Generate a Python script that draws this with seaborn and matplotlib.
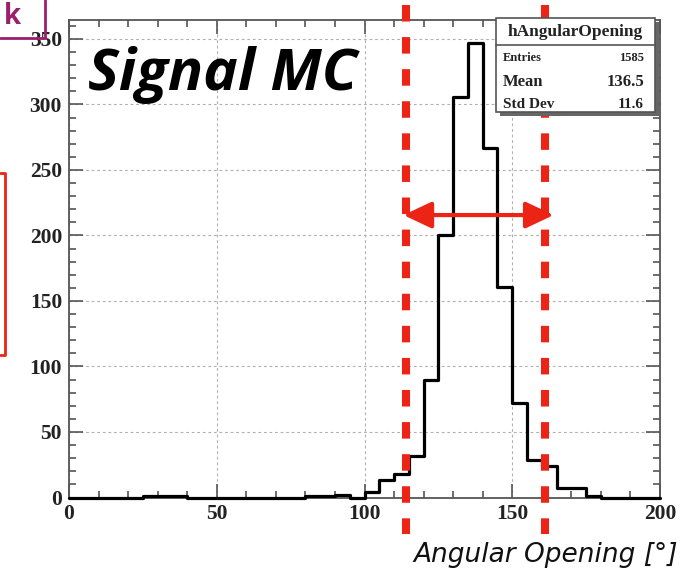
import numpy as np
import pandas as pd
import matplotlib
matplotlib.use("Agg")
import matplotlib.pyplot as plt
from matplotlib.patches import Rectangle
from matplotlib.lines import Line2D
from matplotlib.transforms import blended_transform_factory
from matplotlib.ticker import MultipleLocator
import seaborn as sns

# ---- data ----
bin_edges = list(range(0, 205, 5))
counts = [0, 0, 0, 0, 0, 1, 1, 1, 0, 0,
          0, 0, 0, 0, 0, 0, 1, 1, 2, 0,
          4, 13, 18, 32, 90, 200, 306, 347, 267, 161,
          72, 29, 24, 7, 7, 1, 0, 0, 0, 0]
x_ticks = [0, 50, 100, 150, 200]
y_ticks = [0, 50, 100, 150, 200, 250, 300, 350]
cut_low, cut_high = 114.1, 161.2
arrow_y, arrow_x0, arrow_x1 = 215.6, 113.2, 164.0
stats_title = "hAngularOpening"
stats_labels = ["Entries", "Mean", "Std Dev"]
stats_values = ["1585", "136.5", "11.6"]

centers = [(a + b) / 2 for a, b in zip(bin_edges[:-1], bin_edges[1:])]
df = pd.DataFrame({"angle": centers, "n": counts})

sns.set_theme(style="white")
plt.rcParams["lines.scale_dashes"] = False

W, H = 686, 574
fig = plt.figure(figsize=(W / 100, H / 100), dpi=100)

def fx(px):
    return px / W

def fy(py):
    return 1 - py / H

ax_l, ax_r, ax_t, ax_b = 69, 660, 20, 497.5
ax = fig.add_axes([fx(ax_l), fy(ax_b), fx(ax_r - ax_l), (ax_b - ax_t) / H])

sns.histplot(data=df, x="angle", weights="n", bins=bin_edges, element="step",
             fill=False, color="black", linewidth=2.3, ax=ax)
for art in list(ax.lines) + list(ax.patches) + list(ax.collections):
    art.set_clip_on(False)
    art.set_zorder(4)
ax.set_xlim(0, 200)
ax.set_ylim(0, 364.5)
ax.set_xlabel("")
ax.set_ylabel("")

# ROOT-like axes
ax.xaxis.set_major_locator(MultipleLocator(50))
ax.xaxis.set_minor_locator(MultipleLocator(10))
ax.yaxis.set_major_locator(MultipleLocator(50))
ax.yaxis.set_minor_locator(MultipleLocator(10))
ax.set_xticks(x_ticks)
ax.set_yticks(y_ticks)
ax.set_xticklabels([str(v) for v in x_ticks])
ax.set_yticklabels([str(v) for v in y_ticks])
tick_col = "#555555"
ax.tick_params(which="both", direction="in", top=True, right=True,
               bottom=True, left=True, color=tick_col, width=1.2)
ax.tick_params(which="major", length=10, pad=5)
ax.tick_params(which="minor", length=5)
for lab in ax.get_xticklabels() + ax.get_yticklabels():
    lab.set_fontfamily("Liberation Serif")
    lab.set_fontweight("bold")
    lab.set_fontsize(15.5)
    lab.set_color("#222222")
for sp in ax.spines.values():
    sp.set_color(tick_col)
    sp.set_linewidth(1.3)
ax.grid(True, which="major", color="#b0b0b0", linestyle=(0, (2, 2)), linewidth=0.8)
ax.set_axisbelow(True)

# Stats box
box_col = "#555555"
bx0, bx1, by0, by1 = 496, 655, 18, 112
fig.add_artist(Rectangle((fx(bx0 + 4), fy(by1 + 4)), fx(bx1 - bx0), (by1 - by0) / H,
                         transform=fig.transFigure, facecolor="#666666", edgecolor="none", zorder=5))
fig.add_artist(Rectangle((fx(bx0), fy(by1)), fx(bx1 - bx0), (by1 - by0) / H,
                         transform=fig.transFigure, facecolor="white", edgecolor=box_col,
                         linewidth=1.2, zorder=6))
fig.add_artist(Line2D([fx(bx0), fx(bx1)], [fy(45), fy(45)], transform=fig.transFigure,
                      color=box_col, linewidth=1.2, zorder=7))
fig.text(fx((bx0 + bx1) / 2), fy(32), stats_title, ha="center", va="center",
         family="Liberation Serif", fontweight="bold", fontsize=12.5, color="#222222", zorder=8)
row_y = [58, 82, 104]
row_fs = [9, 12, 11]
for lab, val, yy, fs in zip(stats_labels, stats_values, row_y, row_fs):
    fig.text(fx(503), fy(yy), lab, ha="left", va="center", family="Liberation Serif",
             fontweight="bold", fontsize=fs, color="#222222", zorder=8)
    fig.text(fx(644), fy(yy), val, ha="right", va="center", family="Liberation Serif",
             fontweight="bold", fontsize=fs, color="#222222", zorder=8)

# Red dashed cut lines (extend beyond the frame)
red = "#ec2416"
blend = blended_transform_factory(ax.transData, fig.transFigure)
for xc in (cut_low, cut_high):
    ax.add_line(Line2D([xc, xc], [fy(5), fy(533.5)], transform=blend, color=red,
                       linewidth=5.8, linestyle=(0, (11.9, 11.2)), solid_capstyle="butt",
                       dash_capstyle="butt", clip_on=False, zorder=20))

# Red double arrow
ax.annotate("", xy=(arrow_x0, arrow_y), xytext=(arrow_x1, arrow_y),
            arrowprops=dict(arrowstyle="<|-|>,head_length=0.95,head_width=0.45",
                            color=red, lw=3, mutation_scale=18, shrinkA=0, shrinkB=0),
            zorder=21, annotation_clip=False)

# Texts
fig.text(fx(88), fy(90), "Signal MC", ha="left", va="baseline", family="Open Sans",
         fontweight="bold", fontstyle="italic", fontsize=42, color="black", zorder=25)
fig.text(fx(678), fy(562), "Angular Opening [°]", ha="right", va="baseline",
         family="DejaVu Sans", fontstyle="oblique", fontsize=19, color="#111111")

# slide fragments: purple box (top-left) and red box (left)
purple = "#9c1f6e"
fig.add_artist(Line2D([0, fx(45), fx(45)], [fy(38), fy(38), 1.0], transform=fig.transFigure,
                      color=purple, linewidth=2))
fig.text(fx(4), fy(24), "k", ha="left", va="baseline", family="Open Sans",
         fontweight="bold", fontsize=20, color=purple)
fig.add_artist(Line2D([0, fx(5), fx(5), 0], [fy(173), fy(173), fy(355), fy(355)],
                      transform=fig.transFigure, color=red, linewidth=2))

fig.savefig("out.png", dpi=100)
